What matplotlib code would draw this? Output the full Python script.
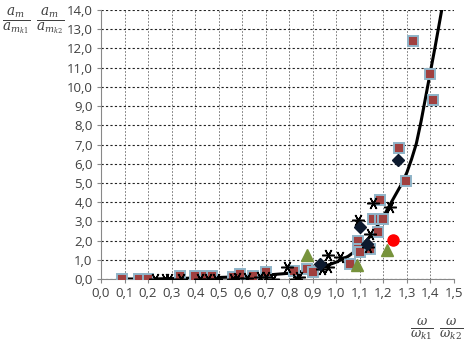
import matplotlib
matplotlib.use("Agg")
import matplotlib.pyplot as plt
import numpy as np

plt.rcParams['mathtext.fontset'] = 'dejavuserif'

# curve
curve_x = [0.10, 0.20, 0.30, 0.40, 0.50, 0.60, 0.70, 0.80, 0.85, 0.90, 0.95, 1.00, 1.05,
           1.10, 1.15, 1.20, 1.25, 1.28, 1.30, 1.32, 1.34, 1.36, 1.38, 1.40, 1.42, 1.45]
curve_y = [0.00, 0.00, 0.02, 0.05, 0.08, 0.12, 0.20, 0.30, 0.38, 0.50, 0.66, 0.88, 1.18,
           1.62, 2.30, 3.25, 4.35, 5.00, 5.55, 6.25, 7.05, 8.20, 9.50, 10.80, 12.10, 14.15]

# squares
sq_x = [0.088, 0.163, 0.198, 0.336, 0.40, 0.44, 0.47, 0.56, 0.59, 0.647, 0.70, 0.82,
        0.874, 0.90, 1.058, 1.093, 1.093, 1.10, 1.143, 1.157, 1.185, 1.185, 1.178, 1.20,
        1.266, 1.296, 1.327, 1.40, 1.409]
sq_y = [0.0, 0.0, 0.0, 0.17, 0.14, 0.17, 0.17, 0.10, 0.24, 0.17, 0.36, 0.42,
        0.54, 0.36, 0.76, 2.0, 1.58, 1.40, 1.58, 3.14, 3.14, 4.10, 2.45, 3.14,
        6.83, 5.09, 12.38, 10.67, 9.31]

# asterisks
st_x = [0.23, 0.27, 0.29, 0.34, 0.42, 0.455, 0.49, 0.56, 0.58, 0.62, 0.675, 0.70, 0.73,
        0.79, 0.83, 0.84, 0.94, 0.966, 0.966, 1.016, 1.093, 1.136, 1.143, 1.157, 1.228]
st_y = [0.0, 0.0, 0.0, 0.0, 0.0, 0.0, 0.0, 0.0, 0.05, 0.05, 0.1, 0.1, 0.0,
        0.63, 0.0, 0.1, 0.5, 0.63, 1.23, 1.15, 3.06, 1.67, 2.36, 3.93, 3.75]

# diamonds
dm_x = [0.93, 1.10, 1.13, 1.26]
dm_y = [0.80, 2.70, 1.84, 6.18]

# triangles
tr_x = [0.874, 1.086, 1.214]
tr_y = [1.23, 0.71, 1.49]

# circle
ci_x = [1.242]
ci_y = [2.01]

xticks = np.round(np.arange(0, 1.51, 0.1), 1)
yticks = np.arange(0, 14.1, 1.0)

fig = plt.figure(figsize=(4.65, 3.45), dpi=100)
ax = fig.add_axes([101/465, 1 - 279/345, (454-101)/465, (279-10)/345])
ax.set_xlim(0, 1.5)
ax.set_ylim(0, 14)

ax.plot(curve_x, curve_y, color='black', lw=2.2, zorder=3)
ax.plot(sq_x, sq_y, ls='none', marker='s', ms=7.5, mfc='#a0403f', mec='#8fb4c8', mew=1.4, zorder=4)
ax.plot(st_x, st_y, ls='none', marker=(6, 2, 90), ms=9, color='black', mew=1.1, zorder=5)
ax.plot(dm_x, dm_y, ls='none', marker='D', ms=6, color='#0d1a2e', zorder=5)
ax.plot(tr_x, tr_y, ls='none', marker='^', ms=8, color='#77933c', zorder=5)
ax.plot(ci_x, ci_y, ls='none', marker='o', ms=8, color='#ff0000', zorder=5)

ax.set_xticks(xticks)
ax.set_yticks(yticks)
ax.set_xticklabels([f"{v:.1f}".replace('.', ',') for v in xticks])
ax.set_yticklabels([f"{v:.1f}".replace('.', ',') for v in yticks])
ax.tick_params(labelsize=9.5, length=3, width=0.8, direction='out', pad=3,
               colors='#888888', labelcolor='#404040')
for lab in ax.get_xticklabels() + ax.get_yticklabels():
    lab.set_fontfamily('Open Sans')

ax.grid(True, axis='y', color='#222222', ls=(0, (2, 2)), lw=0.8)
ax.grid(True, axis='x', color='#666666', ls=(0, (2, 2)), lw=0.6)
ax.set_axisbelow(True)
ax.spines['top'].set_visible(False)
ax.spines['right'].set_visible(False)
ax.spines['left'].set_color('#888888')
ax.spines['bottom'].set_color('#888888')

fig.text(0.005, 0.985, r'$\frac{a_m}{a_{m_{k1}}}\ \frac{a_m}{a_{m_{k2}}}$', fontsize=14,
         color='#404040', ha='left', va='top')
fig.text(0.995, 0.01, r'$\frac{\omega}{\omega_{k1}}\ \frac{\omega}{\omega_{k2}}$', fontsize=13,
         color='#404040', ha='right', va='bottom')

fig.savefig('out.png', dpi=100)
